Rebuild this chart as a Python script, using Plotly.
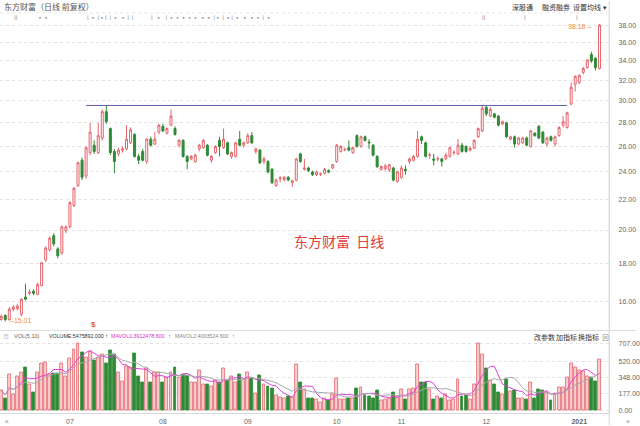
import plotly.graph_objects as go
import pandas as pd

# ---------------- data ----------------
opens = [15.10,15.30,15.10,15.60,15.62,15.35,16.20,16.40,16.50,16.35,
         16.80,18.20,18.80,19.65,18.85,18.60,19.95,20.20,21.60,23.00,
         24.90,23.70,25.50,26.10,25.50,26.70,29.00,27.50,25.60,25.40,
         25.70,25.80,26.30,27.00,25.20,25.60,24.80,26.60,26.20,27.20,
         27.70,27.10,27.80,27.50,26.10,26.50,25.20,25.00,24.80,25.80,
         25.90,26.10,24.90,25.50,26.50,25.90,26.30,25.20,25.20,26.60,
         26.10,26.30,26.90,25.60,25.70,24.80,24.80,24.20,23.00,23.50,
         23.40,23.60,23.20,23.40,25.40,24.20,24.30,24.00,23.80,23.84,
         23.90,24.10,24.30,24.80,25.60,25.74,25.90,25.50,26.90,26.00,
         26.80,26.35,26.10,25.20,24.20,24.25,24.15,24.30,23.30,23.60,
         24.20,24.80,24.90,25.20,26.80,26.30,25.30,25.00,25.00,25.00,
         25.00,25.20,25.50,25.40,26.10,26.00,25.70,25.85,26.80,27.30,
         29.40,28.60,28.80,28.60,27.90,28.00,26.60,26.80,26.20,26.30,
         26.70,26.00,27.10,27.70,27.20,26.20,26.80,26.20,26.90,27.80,
         27.60,29.70,31.60,31.80,32.80,33.30,34.70,34.30,33.20]
highs = [15.35,15.35,15.70,15.80,15.85,16.15,16.90,16.60,16.60,16.95,
         18.10,19.00,19.60,19.80,18.95,20.30,20.30,21.90,22.90,24.80,
         25.10,26.00,28.00,26.50,28.00,29.20,29.60,27.60,25.80,25.90,
         26.00,27.80,27.60,27.10,25.40,25.80,26.70,26.80,27.20,27.90,
         27.90,27.60,29.20,27.70,26.60,26.60,25.30,25.30,25.40,26.20,
         26.60,26.20,25.30,26.10,26.80,27.50,26.40,25.60,26.40,27.30,
         26.40,27.10,27.20,25.90,25.80,25.20,24.90,24.30,23.50,23.70,
         23.70,23.70,23.40,25.10,25.50,25.00,24.40,24.10,24.10,23.95,
         24.30,24.20,24.60,26.20,26.10,25.90,26.50,26.00,27.00,26.90,
         26.90,26.60,26.20,25.30,24.50,24.60,24.60,24.40,24.10,24.50,
         24.50,25.10,25.30,27.30,26.90,26.40,25.50,25.40,25.20,25.10,
         25.50,26.00,25.70,26.60,26.30,26.10,26.00,26.60,27.60,29.60,
         29.60,29.40,28.90,28.70,28.20,28.10,26.90,26.90,26.80,26.80,
         26.80,27.40,27.20,27.80,27.30,26.80,26.90,26.90,27.70,28.60,
         29.00,31.80,32.50,32.60,33.40,34.20,35.00,34.40,38.18]
lows = [15.05,15.01,15.05,15.50,15.55,15.25,16.05,16.30,16.30,16.30,
        16.75,18.10,18.70,19.00,18.30,18.50,19.80,20.10,21.50,22.90,
        23.40,23.50,25.30,25.40,25.40,26.50,27.90,25.30,23.90,25.20,
        25.50,25.70,26.20,25.10,24.60,24.80,24.60,26.00,26.10,27.00,
        27.20,27.00,27.70,26.90,25.90,25.10,24.20,24.90,24.70,25.60,
        25.80,25.20,24.70,25.40,25.20,25.80,25.30,25.00,25.10,26.00,
        25.90,26.20,26.20,25.40,24.60,24.60,23.90,23.10,22.90,23.20,
        23.30,23.30,22.90,23.30,24.70,24.10,24.00,23.70,23.70,23.70,
        23.80,23.90,24.20,24.70,25.50,25.60,25.60,25.40,25.90,25.90,
        26.40,25.80,25.20,24.30,24.10,24.10,24.00,23.30,23.20,23.50,
        23.80,24.60,24.80,25.10,26.20,25.10,25.00,24.50,24.80,24.40,
        24.90,25.10,25.30,25.30,25.50,25.50,25.60,25.80,26.70,27.20,
        28.60,28.50,28.40,27.70,27.80,26.70,26.50,25.90,26.10,26.20,
        26.00,25.90,26.80,26.60,26.20,26.00,26.40,26.00,26.80,27.60,
        27.50,29.60,30.90,31.60,32.60,33.20,33.80,33.00,33.10]
closes = [15.25,15.10,15.60,15.70,15.75,16.10,16.10,16.45,16.40,16.85,
          18.05,18.90,19.50,19.15,18.45,20.20,20.20,21.80,22.80,24.70,
          23.60,25.90,27.20,25.60,26.90,29.00,28.10,25.50,24.80,25.70,
          25.80,26.60,27.40,25.20,24.90,24.90,26.60,26.10,26.60,27.80,
          27.30,27.50,28.60,27.00,26.50,25.20,24.80,25.20,25.30,26.10,
          26.50,25.30,25.20,26.00,26.00,26.60,25.40,25.50,26.30,26.10,
          26.30,26.90,26.30,25.80,24.70,25.00,24.00,23.20,23.40,23.55,
          23.60,23.40,23.35,25.00,24.80,24.30,24.10,23.80,24.00,23.86,
          24.20,24.00,24.55,26.10,26.00,25.76,25.70,25.90,26.00,26.80,
          26.50,26.30,25.30,24.40,24.40,24.45,24.55,23.40,24.00,24.30,
          24.10,25.00,25.20,26.60,26.50,25.20,25.32,24.90,25.02,24.80,
          25.30,25.90,25.52,26.10,25.60,25.60,25.85,26.50,27.50,29.30,
          28.80,29.20,28.50,27.80,28.10,26.80,26.80,26.20,26.70,26.70,
          26.10,27.30,26.90,26.70,26.30,26.70,26.50,26.80,27.60,28.10,
          28.90,31.30,32.40,32.50,33.20,34.10,34.00,33.30,38.05]
volumes = [210,129,385,175,367,402,455,280,192,400,
           497,507,385,390,395,497,360,549,647,710,
           612,560,630,535,560,595,500,636,595,402,
           307,472,460,600,360,304,450,297,402,400,
           297,350,402,455,350,385,374,300,297,430,
           280,280,262,315,304,444,315,360,304,385,
           330,402,339,185,377,280,262,237,157,140,
           129,147,140,490,304,227,129,132,122,87,
           129,105,175,339,122,122,129,129,237,245,
           164,150,129,216,105,122,129,192,150,227,
           115,227,234,486,304,297,227,122,150,129,
           175,105,115,332,150,164,122,280,707,595,
           444,315,280,192,175,332,200,210,133,133,
           122,297,135,224,217,189,105,182,245,245,
           350,497,462,427,420,360,350,308,542]
month_ticks = [17, 40, 61, 83, 99, 120, 143]
month_labels = ["07", "08", "09", "10", "11", "12", "<b>2021</b>"]
price_ticks = [16, 18, 20, 22, 24, 26, 28, 30, 32, 34, 36, 38]
price_labels = ["%.2f" % v for v in price_ticks]
vol_ticks = [0, 177, 348, 520, 707]
vol_labels = ["%.2f" % v for v in vol_ticks]
line_x = [21, 140]
line_y = [29.57, 29.57]

idx = list(range(len(opens)))
UP = "#e4646c"
DN = "#2f8a35"
FONT = "Noto Sans CJK SC"
LAT = "Liberation Sans"

vs = pd.Series(volumes, dtype=float)
ma5 = vs.rolling(5, min_periods=1).mean()
ma10 = vs.rolling(10, min_periods=1).mean()
up = [c >= o for o, c in zip(opens, closes)]

fig = go.Figure()
fig.add_trace(go.Candlestick(
    x=idx, open=opens, high=highs, low=lows, close=closes,
    increasing=dict(line=dict(color=UP, width=1), fillcolor="#ffffff"),
    decreasing=dict(line=dict(color=DN, width=1), fillcolor=DN),
    whiskerwidth=0, xaxis="x", yaxis="y", hoverinfo="skip"))
fig.add_trace(go.Scatter(x=line_x, y=line_y, mode="lines",
                         line=dict(color="#5c5ca8", width=1), xaxis="x", yaxis="y"))
fig.add_trace(go.Bar(
    x=idx, y=volumes, width=0.72,
    marker=dict(color=["#f8cfd0" if u else DN for u in up],
                line=dict(color=[UP if u else DN for u in up], width=0.8)),
    xaxis="x", yaxis="y2"))
fig.add_trace(go.Scatter(x=idx, y=ma5, mode="lines", line=dict(color="#e040d8", width=1),
                         xaxis="x", yaxis="y2"))
fig.add_trace(go.Scatter(x=idx, y=ma10, mode="lines", line=dict(color="#a8a8a8", width=1),
                         xaxis="x", yaxis="y2"))

W, H = 640, 426
def px(x): return x / W
def py(y): return 1 - y / H

ann = []
def t(x, y, s, size=8, color="#555", xa="left", ya="middle", fam=FONT):
    ann.append(dict(x=px(x), y=py(y), xref="paper", yref="paper", text=s, showarrow=False,
                    xanchor=xa, yanchor=ya, font=dict(family=fam, size=size, color=color)))

t(2, 6, "东方财富（日线 前复权）", 8, "#555")
t(513, 6, "深股通", 7, "#333")
t(543, 6, "融资融券", 7, "#333")
t(575, 6, "设置均线 ▾", 7, "#333")
# information markers row
marks = [(12, "ll"), (35, "▪▪"), (86, "l ▪ l▪l  l ▪ ▪ l  l"), (150, "l  ▪   l ▪▪▪▪▪ ▪▪ l▪ l ▪l ▪ ▪ ▪▪ l ▪"),
         (483, "ll"), (525, "l"), (578, "l")]
for x, s in marks:
    t(x, 17, s, 6, "#999")
t(597, 26, "38.18 ‒", 7, "#f08a3c", xa="right", fam=LAT)
t(8, 321, "‒15.01", 7, "#f08a3c", fam=LAT)
t(94, 325, "$", 8, "#e02020", xa="center", fam=LAT)
t(341, 241, "东方财富  日线", 14, "#e23b3b", xa="center")
# volume header
t(2, 337, "⍰", 7, "#888")
t(12, 337, "VOL(5,10)", 5.5, "#666", fam=LAT)
t(47, 337, "VOLUME:5475892.000", 5.3, "#333", fam=LAT)
t(104, 337, "↑", 6, "#333", fam=LAT)
t(110, 337, "MAVOL1:3912478.600", 5.3, "#d633d0", fam=LAT)
t(167, 337, "↑", 6, "#d633d0", fam=LAT)
t(174, 337, "MAVOL2:4003524.600", 5.3, "#888", fam=LAT)
t(231, 337, "↑", 6, "#888", fam=LAT)
t(535, 338, "改参数", 7, "#333")
t(557, 338, "加指标", 7, "#333")
t(580, 338, "换指标", 7, "#333")
t(604, 338, "⊠", 7, "#888")
t(3, 421, "«", 8, "#888")
t(636, 421, "»", 8, "#888", xa="right")

XR = [-0.3, 150.4]
fig.update_layout(
    width=W, height=H, margin=dict(l=0, r=0, t=0, b=0),
    paper_bgcolor="#ffffff", plot_bgcolor="#ffffff", showlegend=False,
    font=dict(family=FONT, size=8, color="#555"),
    annotations=ann, bargap=0,
    xaxis=dict(domain=[0, 613 / W], range=XR, anchor="y2", rangeslider=dict(visible=False),
               tickmode="array", tickvals=month_ticks, ticktext=month_labels,
               ticks="", showgrid=False, zeroline=False, showline=True, linecolor="#d8d8d8",
               tickfont=dict(size=7, color="#666", family=LAT), ticklabelstandoff=2),
    yaxis=dict(domain=[py(330), py(22)], type="log",
               range=[1.1655, 1.5834], side="right", anchor="x",
               tickmode="array", tickvals=price_ticks, ticktext=price_labels,
               showgrid=True, gridcolor="#e2e2e2", griddash="dot", zeroline=False,
               showline=True, linecolor="#d8d8d8", ticks="", ticklabelstandoff=7,
               tickfont=dict(size=7, color="#666", family=LAT)),
    yaxis2=dict(domain=[py(414), py(340)], range=[-24, 752], side="right", anchor="x",
                tickmode="array", tickvals=vol_ticks, ticktext=vol_labels,
                showgrid=True, gridcolor="#e2e2e2", griddash="dot", zeroline=False,
                showline=True, linecolor="#d8d8d8", ticks="", ticklabelstandoff=7,
                tickfont=dict(size=7, color="#666", family=LAT)),
    shapes=[
        dict(type="line", xref="paper", yref="paper", x0=0, x1=px(613), y0=py(12), y1=py(12),
             line=dict(color="#e6e6e6", width=1, dash="dot")),
        dict(type="line", xref="paper", yref="paper", x0=0, x1=1, y0=py(331), y1=py(331),
             line=dict(color="#dcdcdc", width=1)),
        dict(type="line", xref="paper", yref="paper", x0=px(613), x1=px(613), y0=0, y1=1,
             line=dict(color="#d8d8d8", width=1)),
    ],
)
fig.write_html("out.html")
